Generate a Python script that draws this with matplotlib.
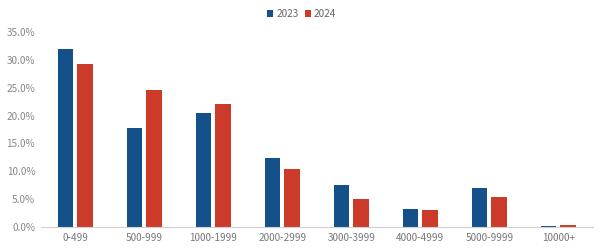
import matplotlib
matplotlib.use("Agg")
import matplotlib.pyplot as plt
import numpy as np

plt.rcParams['font.family'] = ['Noto Sans CJK SC', 'DejaVu Sans']

categories = ["0-499", "500-999", "1000-1999", "2000-2999", "3000-3999",
              "4000-4999", "5000-9999", "10000+"]
series_names = ["2023", "2024"]
values_2023 = [32.0, 17.7, 20.5, 12.3, 7.5, 3.2, 7.0, 0.1]
values_2024 = [29.3, 24.6, 22.0, 10.4, 5.0, 3.1, 5.4, 0.3]
yticks = [0, 5, 10, 15, 20, 25, 30, 35]

c_blue = "#14508a"
c_red = "#cc3a2a"

fig = plt.figure(figsize=(6, 2.5), dpi=100)
ax = fig.add_axes([0.068, 0.092, 0.92, 0.78])

x = np.arange(len(categories))
w = 0.22
off = 0.14
ax.bar(x - off, values_2023, width=w, color=c_blue, label=series_names[0])
ax.bar(x + off, values_2024, width=w, color=c_red, label=series_names[1])

ax.set_xlim(-0.5, len(categories) - 0.5)
ax.set_ylim(0, 35)
ax.set_yticks(yticks)
ax.set_yticklabels([f"{v:.1f}%" for v in yticks], fontsize=7.2, color="#888888")
ax.set_xticks(x)
ax.set_xticklabels(categories, fontsize=7.2, color="#777777")
ax.tick_params(axis='both', length=0, pad=4)
for s in ["top", "right", "left"]:
    ax.spines[s].set_visible(False)
ax.spines["bottom"].set_color("#d0d0d0")
ax.spines["bottom"].set_linewidth(0.8)

leg = fig.legend(loc="upper center", bbox_to_anchor=(0.503, 1.0), ncol=2,
                 frameon=False, fontsize=7.2, handlelength=0.6, handleheight=0.6,
                 handletextpad=0.3, columnspacing=0.6, labelcolor="#666666")

fig.savefig("out.png", dpi=100)
